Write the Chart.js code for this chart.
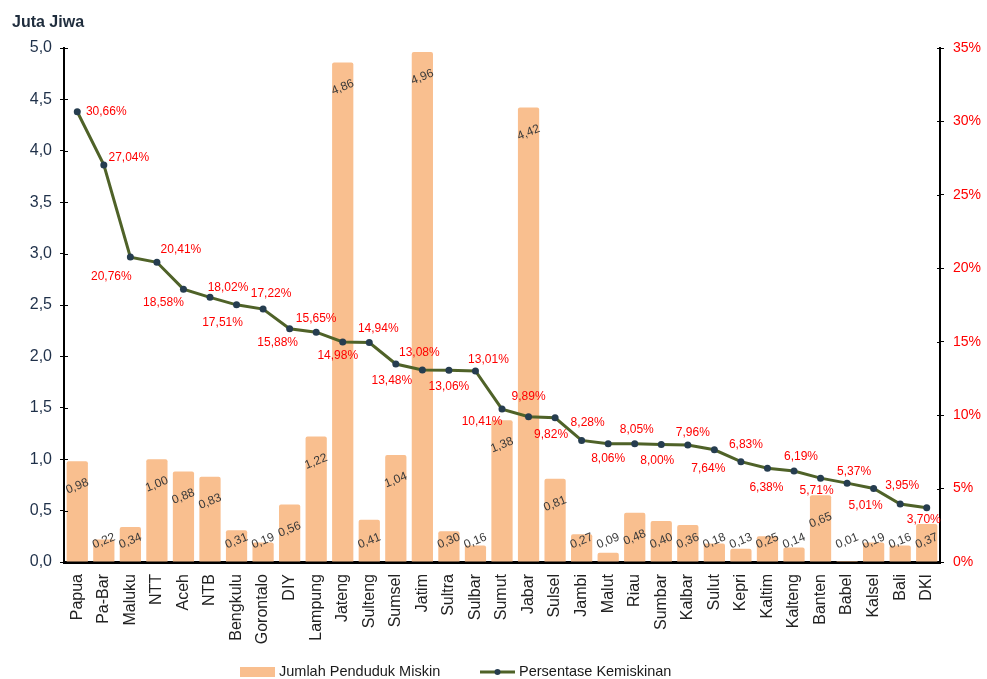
<!DOCTYPE html>
<html>
<head>
<meta charset="utf-8">
<script src="https://cdn.jsdelivr.net/npm/chart.js@4.4.1/dist/chart.umd.min.js"></script>
<style>
html,body{margin:0;padding:0;background:#fff;}
#wrap{width:987px;height:679px;position:relative;}
</style>
</head>
<body>
<div id="wrap"><canvas id="c" width="987" height="679"></canvas></div>
<script>
const provinces = ["Papua","Pa-Bar","Maluku","NTT","Aceh","NTB","Bengkulu","Gorontalo","DIY","Lampung","Jateng","Sulteng","Sumsel","Jatim","Sultra","Sulbar","Sumut","Jabar","Sulsel","Jambi","Malut","Riau","Sumbar","Kalbar","Sulut","Kepri","Kaltim","Kalteng","Banten","Babel","Kalsel","Bali","DKI"];
const jumlahMiskin = [0.98,0.22,0.34,1.00,0.88,0.83,0.31,0.19,0.56,1.22,4.86,0.41,1.04,4.96,0.30,0.16,1.38,4.42,0.81,0.27,0.09,0.48,0.40,0.36,0.18,0.13,0.25,0.14,0.65,0.01,0.19,0.16,0.37];
const persenMiskin = [30.66,27.04,20.76,20.41,18.58,18.02,17.51,17.22,15.88,15.65,14.98,14.94,13.48,13.08,13.06,13.01,10.41,9.89,9.82,8.28,8.06,8.05,8.00,7.96,7.64,6.83,6.38,6.19,5.71,5.37,5.01,3.95,3.70];
const leftTicks = [0,0.5,1,1.5,2,2.5,3,3.5,4,4.5,5];
const rightTicks = [0,5,10,15,20,25,30,35];
const seriesNames = ["Jumlah Penduduk Miskin","Persentase Kemiskinan"];
const axisTitle = "Juta Jiwa";

// label placement (style, not data): offset of percent label centre from its point
const pctOffsets = [[29,0],[25,-7],[-19,20],[24,-13],[-20,14],[18,-10],[-14,18],[8,-15],[-12,14],[0,-13],[-5,14],[9,-14],[-4,17],[-3,-17],[0,16],[13,-11],[-20,13],[0,-20],[-4,17],[6,-18],[0,15],[2,-14],[-4,16],[5,-12],[-6,19],[5,-17],[-1,19],[7,-14],[-4,13],[7,-11],[-8,17],[2,-18],[-3,12]];

const FONT = "Arial, 'Liberation Sans', sans-serif";
const BAR_COLOR = "#F9BF8F";
const LINE_COLOR = "#4F6228";
const POINT_COLOR = "#263D4F";

const comma = (v, d) => v.toFixed(d).replace('.', ',');

const labelsPlugin = {
  id: 'customLabels',
  afterDatasetsDraw(chart) {
    const ctx = chart.ctx;
    // bar value labels
    const barMeta = chart.getDatasetMeta(0);
    ctx.save();
    ctx.font = "12px " + FONT;
    ctx.fillStyle = "#3a3a3a";
    ctx.textAlign = "center";
    ctx.textBaseline = "middle";
    barMeta.data.forEach((bar, i) => {
      const y = Math.min(bar.y + 25, 541);
      ctx.save();
      ctx.translate(bar.x, y);
      ctx.rotate(-22 * Math.PI / 180);
      ctx.fillText(comma(jumlahMiskin[i], 2), 0, 0);
      ctx.restore();
    });
    ctx.restore();
    // percent labels
    const lineMeta = chart.getDatasetMeta(1);
    ctx.save();
    ctx.font = "12px " + FONT;
    ctx.fillStyle = "#FF0000";
    ctx.textAlign = "center";
    ctx.textBaseline = "middle";
    lineMeta.data.forEach((pt, i) => {
      const o = pctOffsets[i];
      ctx.fillText(comma(persenMiskin[i], 2) + "%", pt.x + o[0], pt.y + o[1]);
    });
    ctx.restore();
  },
  afterDraw(chart) {
    const ctx = chart.ctx;
    ctx.save();
    // axis title
    ctx.font = "bold 16px " + FONT;
    ctx.fillStyle = "#1F2D3D";
    ctx.textAlign = "left";
    ctx.textBaseline = "middle";
    ctx.fillText(axisTitle, 12, 23);
    // legend
    const ly = 672;
    ctx.fillStyle = BAR_COLOR;
    ctx.fillRect(240, ly - 5, 35, 10);
    ctx.font = "14.5px " + FONT;
    ctx.fillStyle = "#1a1a1a";
    ctx.fillText(seriesNames[0], 279, ly);
    ctx.strokeStyle = LINE_COLOR;
    ctx.lineWidth = 3;
    ctx.beginPath();
    ctx.moveTo(480, ly);
    ctx.lineTo(515, ly);
    ctx.stroke();
    ctx.fillStyle = POINT_COLOR;
    ctx.beginPath();
    ctx.arc(497.5, ly, 3, 0, Math.PI * 2);
    ctx.fill();
    ctx.fillStyle = "#1a1a1a";
    ctx.fillText(seriesNames[1], 519, ly);
    // crossing tick marks inside the axes
    const yL = chart.scales.y, yR = chart.scales.y1;
    ctx.strokeStyle = "#000";
    ctx.lineWidth = 1;
    leftTicks.forEach(v => {
      const p = Math.round(yL.getPixelForValue(v)) + 0.5;
      ctx.beginPath(); ctx.moveTo(yL.right, p); ctx.lineTo(yL.right + 4, p); ctx.stroke();
    });
    rightTicks.forEach(v => {
      const p = Math.round(yR.getPixelForValue(v)) + 0.5;
      ctx.beginPath(); ctx.moveTo(yR.left - 3, p); ctx.lineTo(yR.left, p); ctx.stroke();
    });
    ctx.restore();
  }
};

new Chart(document.getElementById('c'), {
  data: {
    labels: provinces,
    datasets: [
      {
        type: 'bar',
        label: seriesNames[0],
        data: jumlahMiskin,
        backgroundColor: BAR_COLOR,
        borderRadius: 2,
        barPercentage: 0.8,
        categoryPercentage: 1.0,
        yAxisID: 'y',
        order: 2
      },
      {
        type: 'line',
        label: seriesNames[1],
        data: persenMiskin,
        borderColor: LINE_COLOR,
        borderWidth: 3,
        pointRadius: 3.5,
        pointBackgroundColor: POINT_COLOR,
        pointBorderColor: POINT_COLOR,
        pointBorderWidth: 0,
        tension: 0,
        yAxisID: 'y1',
        order: 1
      }
    ]
  },
  options: {
    responsive: false,
    animation: false,
    devicePixelRatio: 1,
    layout: { padding: { top: 48, left: 0, right: 0, bottom: 17 } },
    plugins: {
      legend: { display: false },
      tooltip: { enabled: false }
    },
    scales: {
      x: {
        type: 'category',
        offset: true,
        grid: { display: false, drawTicks: false },
        border: { display: true, color: '#000', width: 3 },
        ticks: {
          autoSkip: false,
          maxRotation: 90,
          minRotation: 90,
          padding: 12,
          color: '#222',
          font: { family: FONT, size: 16 }
        },
        afterFit(s) { s.height = 100; }
      },
      y: {
        position: 'left',
        min: 0,
        max: 5,
        afterBuildTicks(s) { s.ticks = leftTicks.map(v => ({ value: v })); },
        grid: { drawOnChartArea: false, drawTicks: true, tickLength: 4, color: '#000' },
        border: { display: true, color: '#000', width: 2 },
        ticks: {
          padding: 8,
          color: '#1F3049',
          font: { family: FONT, size: 16 },
          callback: v => comma(v, 1)
        },
        afterFit(s) { s.width = 64; }
      },
      y1: {
        position: 'right',
        min: 0,
        max: 35,
        afterBuildTicks(s) { s.ticks = rightTicks.map(v => ({ value: v })); },
        grid: { drawOnChartArea: false, drawTicks: true, tickLength: 4, color: '#000' },
        border: { display: true, color: '#000', width: 2 },
        ticks: {
          padding: 9,
          color: '#FF0000',
          font: { family: FONT, size: 14 },
          callback: v => v + '%'
        },
        afterFit(s) { s.width = 47; }
      }
    }
  },
  plugins: [labelsPlugin]
});
</script>
</body>
</html>
